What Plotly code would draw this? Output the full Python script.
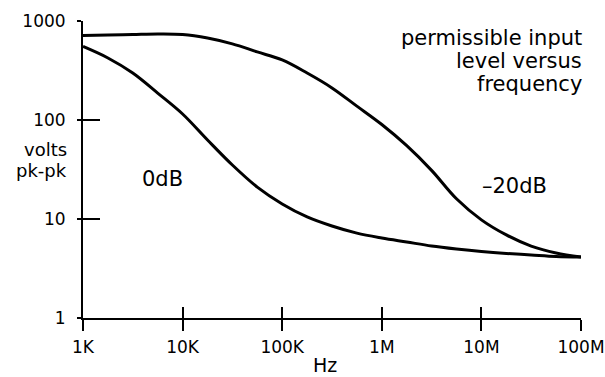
import plotly.graph_objects as go

freq = [1e3, 1.78e3, 3.16e3, 5.62e3, 1e4, 1.78e4, 3.16e4, 5.62e4, 1e5, 1.78e5, 3.16e5,
        5.62e5, 1e6, 1.78e6, 3.16e6, 5.62e6, 1e7, 1.78e7, 3.16e7, 5.62e7, 1e8]
# Permissible input level (volts pk-pk)
volts_minus20 = [714, 723, 731, 740, 731, 673, 587, 487, 404, 298, 211,
                 138, 90, 55, 31, 16, 9.8, 6.9, 5.33, 4.54, 4.13]
volts_0db = [553, 423, 298, 187, 115, 62.8, 35.1, 21.0, 14.2, 10.5, 8.5,
             7.2, 6.43, 5.86, 5.34, 4.98, 4.70, 4.49, 4.33, 4.18, 4.13]

x_tickvals = [1e3, 1e4, 1e5, 1e6, 1e7, 1e8]
x_ticktext = ["1K", "10K", "100K", "1M", "10M", "100M"]
y_tickvals = [1, 10, 100, 1000]
y_ticktext = ["1", "10", "100", "1000"]

FONT = "DejaVu Sans"

fig = go.Figure()
fig.add_trace(go.Scatter(x=freq, y=volts_minus20, mode="lines",
                         line=dict(color="black", width=3, shape="spline", smoothing=1.0),
                         showlegend=False, hoverinfo="skip"))
fig.add_trace(go.Scatter(x=freq, y=volts_0db, mode="lines",
                         line=dict(color="black", width=3, shape="spline", smoothing=1.0),
                         showlegend=False, hoverinfo="skip"))
# invisible trace on the second (coincident) subplot carrying the inward ticks
fig.add_trace(go.Scatter(x=[1e3], y=[1], xaxis="x2", yaxis="y2", mode="markers",
                         marker=dict(opacity=0), showlegend=False, hoverinfo="skip"))

xcommon = dict(type="log", range=[3, 8], showgrid=False, zeroline=False, domain=[0, 1],
               tickmode="array", tickvals=x_tickvals, tickwidth=2, tickcolor="black",
               fixedrange=True, automargin=False)
ycommon = dict(type="log", range=[0, 3], showgrid=False, zeroline=False, domain=[0, 1],
               tickmode="array", tickvals=y_tickvals, tickwidth=2, tickcolor="black",
               fixedrange=True, automargin=False)

fig.update_layout(
    width=605, height=377,
    margin=dict(l=83, r=24, t=21, b=59, autoexpand=False),
    paper_bgcolor="white", plot_bgcolor="rgba(0,0,0,0)",
    font=dict(family=FONT, color="black", size=17),
    xaxis=dict(**xcommon, anchor="y", ticktext=x_ticktext, ticks="outside", ticklen=11,
               showline=True, linecolor="black", linewidth=2,
               tickfont=dict(family=FONT, size=17, color="black"), ticklabelstandoff=2),
    yaxis=dict(**ycommon, anchor="x", ticktext=y_ticktext, ticks="outside", ticklen=4,
               showline=True, linecolor="black", linewidth=2,
               tickfont=dict(family=FONT, size=17, color="black"), ticklabelstandoff=8),
    xaxis2=dict(**xcommon, anchor="y2", side="bottom", ticks="inside",
                ticklen=11, showticklabels=False, showline=False),
    yaxis2=dict(**ycommon, anchor="x2", side="left", ticks="inside",
                ticklen=17, showticklabels=False, showline=False),
)

def px_to_paper_x(px):
    return (px - 83) / (605 - 83 - 24)

def px_to_paper_y(py):
    return (377 - 59 - py) / (377 - 59 - 21)

annots = [
    ("permissible input", 583, 37.6, "right", 21),
    ("level versus", 583, 60.6, "right", 21),
    ("frequency", 583, 83.6, "right", 21),
    ("volts", 68, 149, "right", 18),
    ("pk-pk", 68, 170, "right", 18),
    ("0dB", 162, 178.6, "center", 21),
    ("–20dB", 548, 185.6, "right", 21),
    ("Hz", 325, 365, "center", 19),
]
for text, xp, yp, xa, fs in annots:
    fig.add_annotation(text=text, xref="paper", yref="paper",
                       x=px_to_paper_x(xp), y=px_to_paper_y(yp),
                       xanchor=xa, yanchor="middle", showarrow=False, borderpad=0,
                       font=dict(family=FONT, size=fs, color="black"))

fig.write_html("out.html",
               config={"displayModeBar": False},
               post_script="document.body.style.margin='0px';"
                           "document.documentElement.style.overflow='hidden';"
                           "document.body.style.overflow='hidden';")
